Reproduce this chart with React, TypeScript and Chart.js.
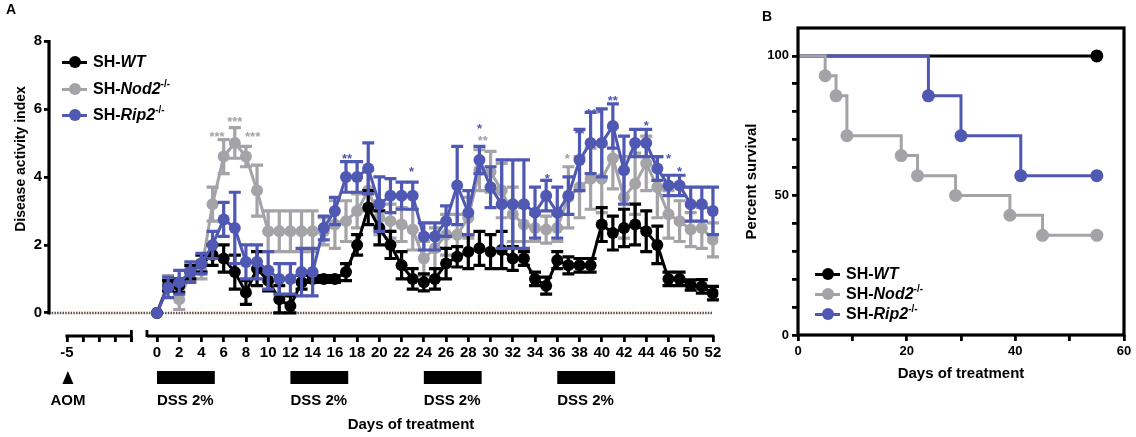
import React, { useEffect, useRef } from 'react';
import { Chart, registerables } from 'chart.js';

Chart.register(...registerables);

const FONT = "'Liberation Sans', Arial, Helvetica, sans-serif";
const NARROW = "'Liberation Sans Narrow', 'Arial Narrow', 'Liberation Sans', Arial, sans-serif";
const BLACK = '#000000';
const GRAY = '#a3a3a8';
const BLUE = '#4f58b2';

// ---------------- Panel A : disease activity index ----------------
const days = [0, 1, 2, 3, 4, 5, 6, 7, 8, 9, 10, 11, 12, 13, 14, 15, 16, 17, 18, 19, 20, 21, 22, 23, 24, 25,
  26, 27, 28, 29, 30, 31, 32, 33, 34, 35, 36, 37, 38, 39, 40, 41, 42, 43, 44, 45, 46, 47, 48, 49, 50];

const wtMean = [0, 0.8, 0.8, 1.2, 1.45, 1.7, 1.6, 1.2, 0.6, 1.3, 0.95, 0.4, 0.2, 0.9, 1.0, 1.0, 1.0, 1.2, 2.0, 3.1,
  2.5, 2.0, 1.4, 1.0, 0.9, 1.0, 1.45, 1.65, 1.8, 1.9, 1.8, 1.85, 1.6, 1.6, 1.0, 0.8, 1.55, 1.4, 1.4, 1.4,
  2.6, 2.35, 2.5, 2.6, 2.4, 2.0, 1.0, 1.0, 0.82, 0.78, 0.58];
const wtSem = [0, 0.15, 0.2, 0.2, 0.25, 0.3, 0.4, 0.5, 0.35, 0.5, 0.3, 0.4, 0.3, 0.2, 0.1, 0.1, 0.1, 0.25, 0.3, 0.5,
  0.5, 0.4, 0.4, 0.3, 0.25, 0.3, 0.45, 0.3, 0.5, 0.5, 0.5, 0.55, 0.35, 0.2, 0.2, 0.25, 0.25, 0.25, 0.2, 0.2,
  0.5, 0.5, 0.55, 0.6, 0.6, 0.55, 0.2, 0.2, 0.15, 0.2, 0.2];

const nod2Mean = [0, 0.9, 0.4, 1.15, 1.25, 3.2, 4.6, 5.0, 4.6, 3.6, 2.4, 2.4, 2.4, 2.4, 2.4, 2.4, 2.6, 2.7, 3.0, 3.6,
  2.8, 2.7, 2.6, 2.45, 1.6, 1.9, 2.3, 2.3, 2.8, 4.2, 4.15, 3.6, 2.9, 2.6, 2.5, 2.45, 2.5, 3.4, 3.7, 3.95,
  3.95, 4.55, 3.4, 3.8, 4.4, 3.7, 2.9, 2.7, 2.45, 2.5, 2.15];
const nod2Sem = [0, 0.2, 0.3, 0.2, 0.25, 0.5, 0.5, 0.45, 0.3, 0.75, 0.6, 0.6, 0.6, 0.6, 0.6, 0.4, 0.7, 0.6, 0.5, 0.6,
  0.5, 0.5, 0.5, 0.6, 0.5, 0.6, 0.6, 0.6, 0.6, 0.6, 0.6, 0.8, 0.8, 0.5, 0.4, 0.4, 0.4, 0.9, 0.9, 0.9,
  1.0, 0.9, 1.2, 0.9, 0.8, 0.9, 0.7, 0.6, 0.5, 0.6, 0.5];

const rip2Mean = [0, 0.75, 0.9, 1.2, 1.45, 2.0, 2.75, 2.5, 1.5, 1.5, 1.25, 1.0, 1.0, 1.2, 1.2, 2.5, 3.0, 4.0, 4.0, 4.25,
  3.2, 3.45, 3.45, 3.45, 2.25, 2.25, 2.7, 3.75, 2.95, 4.5, 3.7, 3.2, 3.2, 3.2, 2.95, 3.45, 2.95, 3.45, 4.5, 5.0,
  5.0, 5.5, 4.2, 5.0, 5.0, 4.25, 3.75, 3.75, 3.2, 3.2, 3.0];
const rip2Sem = [0, 0.3, 0.35, 0.3, 0.3, 0.4, 0.5, 1.05, 0.5, 0.5, 0.55, 0.45, 0.45, 0.7, 0.7, 0.35, 0.4, 0.45, 0.45, 0.75,
  0.8, 0.5, 0.4, 0.4, 0.4, 0.4, 0.45, 1.15, 0.65, 0.4, 0.6, 1.3, 1.3, 1.3, 0.75, 0.45, 0.75, 0.55, 0.9, 0.9,
  1.0, 0.65, 1.0, 0.4, 0.4, 0.35, 0.3, 0.3, 0.5, 0.5, 0.7];

const xTickDays = [0, 2, 4, 6, 8, 10, 12, 14, 16, 18, 20, 22, 24, 26, 28, 30, 32, 34, 36, 38, 40, 42, 44, 46, 48, 50];
const xTickLabels = ['0', '2', '4', '6', '8', '10', '12', '14', '16', '18', '20', '22', '24', '26', '28', '30', '32',
  '34', '36', '38', '40', '42', '44', '46', '50', '52'];
const preTickLabels = ['-5', '', '', '', ''];
const yTicksA = [0, 2, 4, 6, 8];

const dssStartDays = [0, 12, 24, 36];
const dssLabel = 'DSS 2%';
const aomLabel = 'AOM';

// significance marks: day, level (index units), text, series
const starDays = [5.4, 7.0, 8.6, 29.3, 36.9, 17.1, 22.9, 29.0, 35.1, 38.0, 39.3, 41.0, 44.0, 46.0, 47.0];
const starLevels = [5.3, 5.73, 5.3, 5.18, 4.65, 4.65, 4.26, 5.53, 4.06, 5.38, 5.97, 6.35, 5.62, 4.65, 4.26];
const starTexts = ['***', '***', '***', '**', '*', '**', '*', '*', '*', '**', '***', '**', '*', '*', '*'];
const starSeries = ['nod2', 'nod2', 'nod2', 'nod2', 'nod2', 'rip2', 'rip2', 'rip2', 'rip2', 'rip2', 'rip2', 'rip2', 'rip2', 'rip2', 'rip2'];

// ---------------- Panel B : survival ----------------
const wtTimes = [0, 55];
const wtSurvival = [100, 100];
const nod2Times = [0, 5, 7, 9, 19, 22, 29, 39, 45, 55];
const nod2Survival = [100, 92.9, 85.7, 71.4, 64.3, 57.1, 50, 42.9, 35.7, 35.7];
const rip2Times = [0, 24, 30, 41, 55];
const rip2Survival = [100, 85.7, 71.4, 57.1, 57.1];
const bXTicks = [0, 10, 20, 30, 40, 50, 60];
const bXLabels = ['0', '', '20', '', '40', '', '60'];
const bYTicks = [0, 10, 20, 30, 40, 50, 60, 70, 80, 90, 100];
const bYLabels = ['0', '', '', '', '', '50', '', '', '', '', '100'];

// ---------------- layout constants (not data) ----------------
const PRE_AXIS = { first: -8.1, step: 1.45, count: 5 };
const MAIN_AXIS_START = -0.9;
const DSS_LEN = 5.2;

const toPoints = (xs: number[], ys: number[]) => xs.map((x, i) => ({ x, y: ys[i] }));

const errorBarPlugin = {
  id: 'errorBars',
  beforeDatasetDraw(chart: any, args: any) {
    const ds: any = chart.data.datasets[args.index];
    if (!ds.sem) return;
    const { ctx } = chart;
    const xs = chart.scales.x;
    const ys = chart.scales.y;
    ctx.save();
    ctx.strokeStyle = ds.borderColor;
    ctx.lineWidth = 3.2;
    ds.data.forEach((pt: any, i: number) => {
      const e = ds.sem[i];
      if (!e) return;
      const px = xs.getPixelForValue(pt.x);
      const top = ys.getPixelForValue(pt.y + e);
      const bot = ys.getPixelForValue(Math.max(0, pt.y - e));
      ctx.beginPath();
      ctx.moveTo(px, top); ctx.lineTo(px, bot);
      ctx.moveTo(px - 6, top); ctx.lineTo(px + 6, top);
      ctx.moveTo(px - 6, bot); ctx.lineTo(px + 6, bot);
      ctx.stroke();
    });
    ctx.restore();
  },
};

const panelAPlugin = {
  id: 'panelA',
  beforeDatasetsDraw(chart: any) {
    const { ctx, chartArea } = chart;
    const xs = chart.scales.x;
    const ys = chart.scales.y;
    const y0 = ys.getPixelForValue(0);
    ctx.save();
    ctx.strokeStyle = '#5e4f46';
    ctx.lineWidth = 2.5;
    ctx.setLineDash([1.5, 1.2]);
    ctx.beginPath();
    ctx.moveTo(chartArea.left, y0);
    ctx.lineTo(xs.getPixelForValue(50), y0);
    ctx.stroke();
    ctx.restore();
  },
  afterDatasetsDraw(chart: any) {
    const { ctx } = chart;
    const xs = chart.scales.x;
    const ys = chart.scales.y;
    ctx.save();
    ctx.font = `bold 13px ${FONT}`;
    ctx.textAlign = 'center';
    ctx.textBaseline = 'alphabetic';
    starDays.forEach((d, i) => {
      ctx.fillStyle = starSeries[i] === 'nod2' ? GRAY : BLUE;
      ctx.fillText(starTexts[i], xs.getPixelForValue(d), ys.getPixelForValue(starLevels[i]) + 8);
    });
    ctx.restore();
  },
  afterDraw(chart: any) {
    const { ctx, chartArea } = chart;
    const xs = chart.scales.x;
    const ys = chart.scales.y;
    const bottom = chartArea.bottom;
    ctx.save();
    ctx.strokeStyle = '#000';
    ctx.fillStyle = '#000';
    ctx.lineWidth = 3.2;
    ctx.lineCap = 'butt';
    // y axis line
    ctx.beginPath();
    ctx.moveTo(chartArea.left, ys.getPixelForValue(0) + 1.5);
    ctx.lineTo(chartArea.left, ys.getPixelForValue(8) - 1);
    ctx.stroke();
    // pre-treatment segment
    const preStart = xs.getPixelForValue(PRE_AXIS.first);
    const preEnd = xs.getPixelForValue(PRE_AXIS.first + PRE_AXIS.step * (PRE_AXIS.count - 1));
    ctx.beginPath();
    ctx.moveTo(preStart - 1.5, bottom);
    ctx.lineTo(preEnd, bottom);
    ctx.stroke();
    ctx.lineWidth = 2.8;
    ctx.beginPath();
    ctx.moveTo(preEnd, bottom - 6);
    ctx.lineTo(preEnd, bottom + 6);
    ctx.stroke();
    // main segment
    const mainStart = xs.getPixelForValue(MAIN_AXIS_START);
    ctx.lineWidth = 3.2;
    ctx.beginPath();
    ctx.moveTo(mainStart, bottom);
    ctx.lineTo(xs.getPixelForValue(50) + 1.5, bottom);
    ctx.stroke();
    ctx.lineWidth = 2.8;
    ctx.beginPath();
    ctx.moveTo(mainStart, bottom - 6);
    ctx.lineTo(mainStart, bottom + 1);
    ctx.stroke();
    // DSS bars and labels
    ctx.font = `bold 15px ${FONT}`;
    ctx.textAlign = 'left';
    ctx.textBaseline = 'middle';
    dssStartDays.forEach((d) => {
      const a = xs.getPixelForValue(d);
      const b = xs.getPixelForValue(d + DSS_LEN);
      ctx.fillRect(a, 371, b - a, 13);
      ctx.fillText(dssLabel, a, 401);
    });
    // AOM marker
    const ax = preStart + 1;
    ctx.beginPath();
    ctx.moveTo(ax, 371);
    ctx.lineTo(ax + 5.5, 384);
    ctx.lineTo(ax - 5.5, 384);
    ctx.closePath();
    ctx.fill();
    ctx.textAlign = 'center';
    ctx.fillText(aomLabel, ax, 401);
    ctx.restore();
  },
};

const survivalBoxPlugin = {
  id: 'survivalBox',
  afterDraw(chart: any) {
    const { ctx, chartArea } = chart;
    ctx.save();
    ctx.strokeStyle = '#000';
    ctx.lineWidth = 3.2;
    ctx.strokeRect(chartArea.left, chartArea.top, chartArea.right - chartArea.left, chartArea.bottom - chartArea.top);
    ctx.restore();
  },
};

function PanelA() {
  const ref = useRef<HTMLCanvasElement>(null);
  useEffect(() => {
    if (!ref.current) return;
    const xLabelMap = new Map<number, string>();
    const preTicks: number[] = [];
    for (let i = 0; i < PRE_AXIS.count; i++) {
      const v = PRE_AXIS.first + PRE_AXIS.step * i;
      preTicks.push(v);
      xLabelMap.set(v, preTickLabels[i]);
    }
    xTickDays.forEach((d, i) => xLabelMap.set(d, xTickLabels[i]));
    const mk = (label: string, color: string, mean: number[], sem: number[]) => ({
      label,
      data: toPoints(days, mean),
      sem,
      borderColor: color,
      backgroundColor: color,
      borderWidth: 3,
      pointRadius: 6,
      pointBorderWidth: 0,
      pointBackgroundColor: color,
      tension: 0,
    });
    const chart = new Chart(ref.current, {
      type: 'line',
      data: {
        datasets: [
          mk('SH-Rip2-/-', BLUE, rip2Mean, rip2Sem),
          mk('SH-WT', BLACK, wtMean, wtSem),
          mk('SH-Nod2-/-', GRAY, nod2Mean, nod2Sem),
        ] as any,
      },
      options: {
        animation: false,
        responsive: false,
        maintainAspectRatio: false,
        layout: { padding: { left: 0, top: 41, right: 11.5, bottom: 0 } },
        plugins: { legend: { display: false }, tooltip: { enabled: false } },
        scales: {
          x: {
            type: 'linear',
            min: -9.71,
            max: 50.5,
            afterBuildTicks: (s: any) => {
              s.ticks = [...preTicks, ...xTickDays].map((v) => ({ value: v }));
            },
            afterFit: (s: any) => { s.height = 101; },
            grid: { display: true, drawOnChartArea: false, drawTicks: true, tickLength: 6, color: '#000', lineWidth: 2.8 },
            border: { display: false },
            ticks: {
              autoSkip: false, maxRotation: 0, minRotation: 0, padding: 2, color: '#000',
              font: { family: NARROW, size: 15, weight: 'bold' },
              callback: (v: any) => xLabelMap.get(Number(v)) ?? '',
            },
          },
          y: {
            type: 'linear',
            min: -0.68,
            max: 8,
            afterBuildTicks: (s: any) => { s.ticks = yTicksA.map((v) => ({ value: v })); },
            afterFit: (s: any) => { s.width = 49; },
            grid: { display: true, drawOnChartArea: false, drawTicks: true, tickLength: 5, color: '#000', lineWidth: 2.8 },
            border: { display: false },
            ticks: {
              padding: 2, color: '#000',
              font: { family: FONT, size: 15, weight: 'bold' },
              callback: (v: any) => String(v),
            },
          },
        },
      } as any,
      plugins: [errorBarPlugin, panelAPlugin],
    });
    return () => chart.destroy();
  }, []);
  return <canvas ref={ref} width={730} height={437} style={{ position: 'absolute', left: 0, top: 0, width: 730, height: 437 }} />;
}

function PanelB() {
  const ref = useRef<HTMLCanvasElement>(null);
  useEffect(() => {
    if (!ref.current) return;
    const mk = (label: string, color: string, xs: number[], ys: number[]) => ({
      label,
      data: toPoints(xs, ys),
      borderColor: color,
      backgroundColor: color,
      borderWidth: 3,
      stepped: 'before',
      pointRadius: xs.map((_, i) => (i === 0 ? 0 : 6.5)),
      pointBorderWidth: 0,
      pointBackgroundColor: color,
    });
    const chart = new Chart(ref.current, {
      type: 'line',
      data: {
        datasets: [
          mk('SH-Nod2-/-', GRAY, nod2Times, nod2Survival),
          mk('SH-Rip2-/-', BLUE, rip2Times, rip2Survival),
          mk('SH-WT', BLACK, wtTimes, wtSurvival),
        ] as any,
      },
      options: {
        animation: false,
        responsive: false,
        maintainAspectRatio: false,
        layout: { padding: { left: 0, top: 28, right: 12, bottom: 0 } },
        plugins: { legend: { display: false }, tooltip: { enabled: false } },
        scales: {
          x: {
            type: 'linear', min: 0, max: 60,
            afterBuildTicks: (s: any) => { s.ticks = bXTicks.map((v) => ({ value: v })); },
            afterFit: (s: any) => { s.height = 102; },
            grid: { display: true, drawOnChartArea: false, drawTicks: true, tickLength: 6, color: '#000', lineWidth: 2.8 },
            border: { display: false },
            title: { display: true, text: 'Days of treatment', color: '#000', font: { family: FONT, size: 15, weight: 'bold' }, padding: { top: 0, bottom: 54 } },
            ticks: {
              autoSkip: false, maxRotation: 0, padding: 3, color: '#000',
              font: { family: FONT, size: 13, weight: 'bold' },
              callback: (v: any) => bXLabels[bXTicks.indexOf(Number(v))] ?? '',
            },
          },
          y: {
            type: 'linear', min: 0, max: 110,
            afterBuildTicks: (s: any) => { s.ticks = bYTicks.map((v) => ({ value: v })); },
            afterFit: (s: any) => { s.width = 68; },
            grid: { display: true, drawOnChartArea: false, drawTicks: true, tickLength: 6, color: '#000', lineWidth: 2.8 },
            border: { display: false },
            title: { display: true, text: 'Percent survival', color: '#000', font: { family: FONT, size: 15, weight: 'bold' }, padding: { top: 13, bottom: 0 } },
            ticks: {
              padding: 3, color: '#000',
              font: { family: FONT, size: 13, weight: 'bold' },
              callback: (v: any) => bYLabels[bYTicks.indexOf(Number(v))] ?? '',
            },
          },
        },
      } as any,
      plugins: [survivalBoxPlugin],
    });
    return () => chart.destroy();
  }, []);
  return <canvas ref={ref} width={406} height={437} style={{ position: 'absolute', left: 730, top: 0, width: 406, height: 437 }} />;
}

function LegendItem({ left, top, color, name, sup }: { left: number; top: number; color: string; name: string; sup?: string }) {
  return (
    <>
      <div style={{ position: 'absolute', left, top: top - 1.5, width: 25, height: 3.5, background: color }} />
      <div style={{ position: 'absolute', left: left + 12.5 - 6, top: top - 6, width: 12, height: 12, borderRadius: '50%', background: color }} />
      <div style={{ position: 'absolute', left: left + 31, top: top - 10, height: 20, lineHeight: '20px', fontSize: 16, fontWeight: 'bold', whiteSpace: 'nowrap', color: '#000' }}>
        SH-<i>{name}</i>
        {sup ? <span style={{ fontSize: 10, position: 'relative', top: -7 }}>{sup}</span> : null}
      </div>
    </>
  );
}

export default function App() {
  return (
    <div style={{ position: 'absolute', left: 0, top: 0, width: 1136, height: 437, background: '#fff', fontFamily: FONT, overflow: 'hidden' }}>
      <PanelA />
      <PanelB />
      <div style={{ position: 'absolute', left: 6, top: 1, fontSize: 14, fontWeight: 'bold' }}>A</div>
      <div style={{ position: 'absolute', left: 762, top: 8, fontSize: 14, fontWeight: 'bold' }}>B</div>
      <div style={{ position: 'absolute', left: 20 - 100, top: 159 - 9, width: 200, height: 18, lineHeight: '18px', textAlign: 'center', transform: 'rotate(-90deg)', fontSize: 14, fontWeight: 'bold', whiteSpace: 'nowrap' }}>Disease activity index</div>
      <div style={{ position: 'absolute', left: 411 - 100, top: 424 - 9, width: 200, height: 18, lineHeight: '18px', textAlign: 'center', fontSize: 15, fontWeight: 'bold', whiteSpace: 'nowrap' }}>Days of treatment</div>
      <LegendItem left={62} top={62} color={BLACK} name="WT" />
      <LegendItem left={62} top={89} color={GRAY} name="Nod2" sup="-/-" />
      <LegendItem left={62} top={115} color={BLUE} name="Rip2" sup="-/-" />
      <LegendItem left={815} top={274} color={BLACK} name="WT" />
      <LegendItem left={815} top={294} color={GRAY} name="Nod2" sup="-/-" />
      <LegendItem left={815} top={314} color={BLUE} name="Rip2" sup="-/-" />
    </div>
  );
}
